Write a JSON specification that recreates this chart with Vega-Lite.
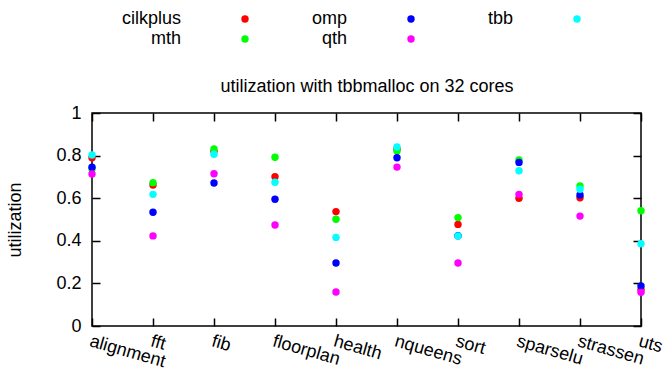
{
  "$schema": "https://vega.github.io/schema/vega-lite/v6.json",
  "autosize": {"type": "none"},
  "padding": {"left": 92, "top": 113, "right": 22, "bottom": 48},
  "width": 549,
  "height": 213,
  "background": "white",
  "config": {
    "font": "Liberation Sans",
    "view": {"stroke": "#000000", "strokeWidth": 1.5},
    "axis": {"domain": false, "grid": false, "tickColor": "#000000", "tickWidth": 1.5, "labelColor": "#000000", "titleColor": "#000000", "labelFontSize": 18, "titleFontSize": 18, "titleFontWeight": "normal", "labelFont": "Liberation Sans", "titleFont": "Liberation Sans"},
    "legend": {"labelFont": "Liberation Sans"}
  },
  "data": {"values": [
    {"bench": "alignment", "series": "cilkplus", "util": 0.79},
    {"bench": "fft", "series": "cilkplus", "util": 0.662},
    {"bench": "fib", "series": "cilkplus", "util": 0.82},
    {"bench": "floorplan", "series": "cilkplus", "util": 0.701},
    {"bench": "health", "series": "cilkplus", "util": 0.537},
    {"bench": "nqueens", "series": "cilkplus", "util": 0.83},
    {"bench": "sort", "series": "cilkplus", "util": 0.477},
    {"bench": "sparselu", "series": "cilkplus", "util": 0.6},
    {"bench": "strassen", "series": "cilkplus", "util": 0.602},
    {"bench": "uts", "series": "cilkplus", "util": 0.17},
    {"bench": "alignment", "series": "mth", "util": 0.737},
    {"bench": "fft", "series": "mth", "util": 0.673},
    {"bench": "fib", "series": "mth", "util": 0.831},
    {"bench": "floorplan", "series": "mth", "util": 0.792},
    {"bench": "health", "series": "mth", "util": 0.501},
    {"bench": "nqueens", "series": "mth", "util": 0.822},
    {"bench": "sort", "series": "mth", "util": 0.509},
    {"bench": "sparselu", "series": "mth", "util": 0.779},
    {"bench": "strassen", "series": "mth", "util": 0.657},
    {"bench": "uts", "series": "mth", "util": 0.541},
    {"bench": "alignment", "series": "omp", "util": 0.745},
    {"bench": "fft", "series": "omp", "util": 0.534},
    {"bench": "fib", "series": "omp", "util": 0.671},
    {"bench": "floorplan", "series": "omp", "util": 0.595},
    {"bench": "health", "series": "omp", "util": 0.296},
    {"bench": "nqueens", "series": "omp", "util": 0.79},
    {"bench": "sort", "series": "omp", "util": 0.424},
    {"bench": "sparselu", "series": "omp", "util": 0.768},
    {"bench": "strassen", "series": "omp", "util": 0.615},
    {"bench": "uts", "series": "omp", "util": 0.188},
    {"bench": "alignment", "series": "qth", "util": 0.714},
    {"bench": "fft", "series": "qth", "util": 0.423},
    {"bench": "fib", "series": "qth", "util": 0.715},
    {"bench": "floorplan", "series": "qth", "util": 0.474},
    {"bench": "health", "series": "qth", "util": 0.16},
    {"bench": "nqueens", "series": "qth", "util": 0.746},
    {"bench": "sort", "series": "qth", "util": 0.296},
    {"bench": "sparselu", "series": "qth", "util": 0.618},
    {"bench": "strassen", "series": "qth", "util": 0.516},
    {"bench": "uts", "series": "qth", "util": 0.158},
    {"bench": "alignment", "series": "tbb", "util": 0.803},
    {"bench": "fft", "series": "tbb", "util": 0.618},
    {"bench": "fib", "series": "tbb", "util": 0.806},
    {"bench": "floorplan", "series": "tbb", "util": 0.675},
    {"bench": "health", "series": "tbb", "util": 0.416},
    {"bench": "nqueens", "series": "tbb", "util": 0.84},
    {"bench": "sort", "series": "tbb", "util": 0.423},
    {"bench": "sparselu", "series": "tbb", "util": 0.729},
    {"bench": "strassen", "series": "tbb", "util": 0.642},
    {"bench": "uts", "series": "tbb", "util": 0.386}
  ]},
  "layer": [
    {
      "mark": {"type": "point", "filled": true, "opacity": 0},
      "encoding": {
        "x": {"field": "bench", "type": "nominal", "sort": null, "scale": {"type": "point", "padding": 0},
              "axis": {"orient": "top", "labels": false, "title": "utilization with tbbmalloc on 32 cores", "titlePadding": 17, "tickSize": -8}},
        "y": {"field": "util", "type": "quantitative", "scale": {"domain": [0, 1]},
              "axis": {"orient": "right", "labels": false, "title": null, "tickSize": -8, "values": [0, 0.2, 0.4, 0.6, 0.8, 1]}}
      }
    },
    {
      "mark": {"type": "point", "filled": true, "opacity": 1, "size": 55},
      "encoding": {
        "x": {"field": "bench", "type": "nominal", "sort": null, "scale": {"type": "point", "padding": 0},
              "axis": {"orient": "bottom", "title": null, "tickSize": -8, "labelAngle": 16, "labelAlign": "left", "labelBaseline": "top", "labelPadding": 14}},
        "y": {"field": "util", "type": "quantitative", "scale": {"domain": [0, 1]},
              "axis": {"orient": "left", "title": "utilization", "tickSize": -8, "values": [0, 0.2, 0.4, 0.6, 0.8, 1], "format": "~g", "labelPadding": 19, "titlePadding": 31}},
        "color": {"field": "series", "type": "nominal",
                  "scale": {"domain": ["cilkplus", "mth", "omp", "qth", "tbb"], "range": ["#ff0000", "#00ff00", "#0000ff", "#ff00ff", "#00ffff"]},
                  "legend": {"orient": "none", "legendX": 144, "legendY": -103, "columns": 3, "title": null, "labelFontSize": 18, "symbolType": "circle", "symbolSize": 55, "labelAlign": "right", "labelOffset": -73, "columnPadding": 62, "rowPadding": 2, "gridAlign": "all"}}
      }
    }
  ]
}
